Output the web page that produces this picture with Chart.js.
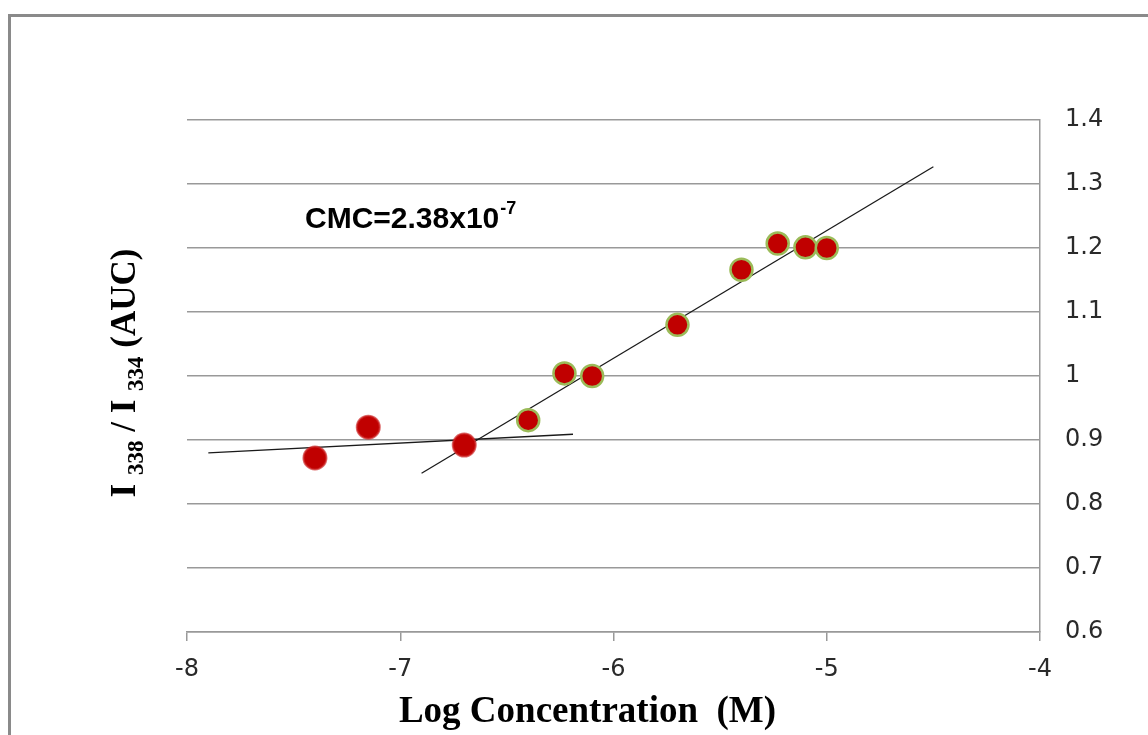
<!DOCTYPE html>
<html>
<head>
<meta charset="utf-8">
<script src="https://cdn.jsdelivr.net/npm/chart.js@4/dist/chart.umd.min.js"></script>
<style>
  html, body { margin: 0; padding: 0; background: #ffffff; }
  #wrap { width: 1148px; height: 735px; }
</style>
</head>
<body>
<div id="wrap"><canvas id="chart" width="1148" height="735"></canvas></div>
<script>
// Pyrene fluorescence ratio versus log concentration
const logConcBelow = [-7.40, -7.15, -6.70];
const ratioBelow   = [0.872, 0.920, 0.892];
const logConcAbove = [-6.40, -6.23, -6.10, -5.70, -5.40, -5.23, -5.10, -5.00];
const ratioAbove   = [0.931, 1.004, 1.000, 1.080, 1.166, 1.207, 1.201, 1.200];

// Linear fits before and after the break point
const fitLowX  = [-7.90, -6.19];
const fitLowY  = [0.880, 0.909];
const fitHighX = [-6.90, -4.50];
const fitHighY = [0.848, 1.327];

const xTicks = [-8, -7, -6, -5, -4];
const yTicks = [0.6, 0.7, 0.8, 0.9, 1.0, 1.1, 1.2, 1.3, 1.4];

const cmcLabel = 'CMC=2.38x10';
const cmcExponent = '-7';

const pairs = (xs, ys) => xs.map((x, i) => ({ x: x, y: ys[i] }));

// Frame, axis titles and the CMC note
const decorations = {
  id: 'decorations',
  beforeDraw(chart) {
    const c = chart.ctx;
    c.save();
    c.strokeStyle = '#8a8a8a';
    c.lineWidth = 3;
    c.strokeRect(9.5, 15.5, 1160, 760);
    c.restore();
  },
  afterDraw(chart) {
    const c = chart.ctx;
    const area = chart.chartArea;
    c.save();
    c.fillStyle = '#000000';

    // x title
    c.font = 'bold 37px "Liberation Serif"';
    c.textAlign = 'center';
    c.textBaseline = 'alphabetic';
    c.fillText('Log Concentration  (M)', (area.left + area.right) / 2 - 26, 722);

    // y title with subscripts, rotated
    const big = 'bold 35px "Liberation Serif"';
    const small = 'bold 23px "Liberation Serif"';
    const parts = [
      { t: 'I ', f: big, dy: 0 },
      { t: '338', f: small, dy: 8 },
      { t: ' / ', f: big, dy: 0 },
      { t: 'I ', f: big, dy: 0 },
      { t: '334', f: small, dy: 8 },
      { t: ' (AUC)', f: big, dy: 0 }
    ];
    let total = 0;
    parts.forEach(p => { c.font = p.f; p.w = c.measureText(p.t).width; total += p.w; });
    c.translate(135, 373);
    c.rotate(-Math.PI / 2);
    c.textAlign = 'left';
    let x = -total / 2;
    parts.forEach(p => {
      c.font = p.f;
      c.fillText(p.t, x, p.dy);
      x += p.w;
    });
    c.setTransform(1, 0, 0, 1, 0, 0);

    // CMC annotation
    c.font = 'bold 30px "Liberation Sans"';
    c.textAlign = 'left';
    c.fillText(cmcLabel, 305, 228);
    const w = c.measureText(cmcLabel).width;
    c.font = 'bold 18px "Liberation Sans"';
    c.fillText(cmcExponent, 305 + w + 1, 214);
    c.restore();
  }
};

new Chart(document.getElementById('chart'), {
  type: 'scatter',
  data: {
    datasets: [
      {
        label: 'Fit below CMC',
        type: 'line',
        data: pairs(fitLowX, fitLowY),
        borderColor: '#1a1a1a',
        borderWidth: 1.3,
        pointRadius: 0,
        fill: false,
        order: 2
      },
      {
        label: 'Fit above CMC',
        type: 'line',
        data: pairs(fitHighX, fitHighY),
        borderColor: '#1a1a1a',
        borderWidth: 1.3,
        pointRadius: 0,
        fill: false,
        order: 2
      },
      {
        label: 'Below CMC',
        data: pairs(logConcBelow, ratioBelow),
        backgroundColor: '#c00000',
        borderColor: 'rgba(205, 40, 40, 0.7)',
        borderWidth: 2,
        pointRadius: 11.5,
        order: 1
      },
      {
        label: 'Above CMC',
        data: pairs(logConcAbove, ratioAbove),
        backgroundColor: '#c00000',
        borderColor: '#9bbb59',
        borderWidth: 2.5,
        pointRadius: 11,
        order: 1
      }
    ]
  },
  options: {
    responsive: false,
    animation: false,
    layout: { padding: { left: 187, top: 120, right: 0, bottom: 0 } },
    plugins: {
      legend: { display: false },
      tooltip: { enabled: false }
    },
    scales: {
      x: {
        type: 'linear',
        position: 'bottom',
        min: -8,
        max: -4,
        afterBuildTicks(scale) { scale.ticks = xTicks.map(v => ({ value: v })); },
        afterFit(scale) { scale.height = 103; },
        grid: {
          drawOnChartArea: false,
          drawTicks: true,
          tickLength: 9,
          color: '#999999',
          lineWidth: 1.5
        },
        border: { display: true, color: '#999999', width: 1.5 },
        ticks: {
          color: '#2a2a2a',
          padding: 14,
          font: { family: '"DejaVu Sans"', size: 24 }
        }
      },
      y: {
        type: 'linear',
        position: 'right',
        min: 0.6,
        max: 1.4,
        afterBuildTicks(scale) { scale.ticks = yTicks.map(v => ({ value: v })); },
        afterFit(scale) { scale.width = 108; },
        grid: {
          drawTicks: false,
          color: '#999999',
          lineWidth: 1.5
        },
        border: { display: true, color: '#999999', width: 1.5 },
        ticks: {
          color: '#2a2a2a',
          padding: 25,
          font: { family: '"DejaVu Sans"', size: 24 },
          callback: v => String(Math.round(v * 10) / 10)
        }
      }
    }
  },
  plugins: [decorations]
});
</script>
</body>
</html>
